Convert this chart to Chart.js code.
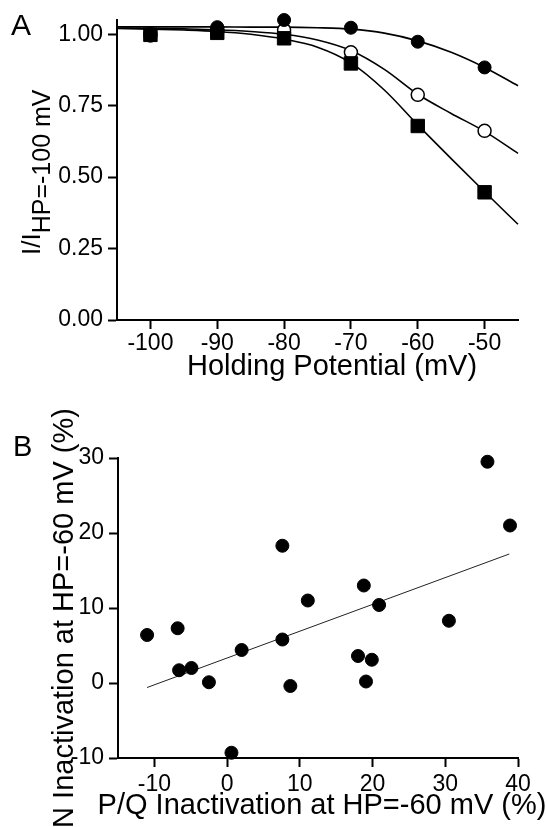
<!DOCTYPE html>
<html>
<head>
<meta charset="utf-8">
<script src="https://cdn.jsdelivr.net/npm/chart.js@4.4.1/dist/chart.umd.min.js"></script>
<style>
  html, body { margin: 0; padding: 0; background: #fff; }
  #wrap { position: relative; width: 547px; height: 827px; }
  #wrap canvas { position: absolute; left: 0; }
  #chartA { top: 0; }
  #chartB { top: 400px; }
</style>
</head>
<body>
<div id="wrap">
  <canvas id="chartA" width="547" height="400"></canvas>
  <canvas id="chartB" width="547" height="427"></canvas>
</div>
<script>
// Panel A: relative current vs holding potential
const voltages = [-100, -90, -80, -70, -60, -50];
const filledVals = [0.995, 1.025, 1.05, 1.023, 0.974, 0.884];
const openVals = [1.0, 1.01, 1.015, 0.937, 0.788, 0.662];
const squareVals = [0.998, 1.005, 0.986, 0.898, 0.679, 0.447];

// fitted curves
const fitVoltages = [-105, -100, -95, -90, -85, -80, -75, -70, -65, -60, -55, -50, -45];
const filledFit = [1.026, 1.026, 1.026, 1.026, 1.025, 1.025, 1.023, 1.018, 1.004, 0.977, 0.937, 0.884, 0.820];
const openFit = [1.022, 1.021, 1.019, 1.016, 1.010, 1.000, 0.980, 0.943, 0.877, 0.790, 0.723, 0.660, 0.583];
const squareFit = [1.020, 1.018, 1.015, 1.010, 1.000, 0.983, 0.955, 0.900, 0.805, 0.683, 0.565, 0.449, 0.335];

const xTicksA = [-100, -90, -80, -70, -60, -50];
const yTicksA = [0, 0.25, 0.5, 0.75, 1];

// Panel B: N vs P/Q inactivation
const pqInact = [-11.0, -6.8, -6.6, -4.9, -2.5, 0.6, 2.0, 7.6, 7.6, 8.7, 11.1, 18.0, 18.8, 19.1, 19.9, 20.9, 30.5, 35.8, 38.9];
const nInact = [6.4, 7.3, 1.7, 2.0, 0.1, -9.3, 4.4, 18.3, 5.8, -0.4, 11.0, 3.6, 13.0, 0.2, 3.1, 10.4, 8.3, 29.5, 21.0];
const regX = [-11.0, 38.8];
const regY = [-0.6, 17.2];

const xTicksB = [-10, 0, 10, 20, 30, 40];
const yTicksB = [-10, 0, 10, 20, 30];

const FONT = '"Liberation Sans", Arial, Helvetica, sans-serif';
Chart.defaults.font.family = FONT;
Chart.defaults.color = '#000';

const toPoints = (xs, ys) => xs.map((x, i) => ({x: x, y: ys[i]}));

// panel letters and axis titles (Chart.js titles get squeezed to the axis length)
function makeTextPlugin(items) {
  return {
    id: 'panelText',
    afterDraw(chart) {
      const ctx = chart.ctx;
      items.forEach(item => {
        ctx.save();
        ctx.fillStyle = '#000';
        ctx.textBaseline = 'alphabetic';
        ctx.textAlign = 'left';
        let total = 0;
        item.parts.forEach(p => {
          ctx.font = p.size + 'px ' + FONT;
          total += ctx.measureText(p.text).width;
        });
        ctx.translate(item.x, item.y);
        if (item.rotate) ctx.rotate(-Math.PI / 2);
        let pos = item.align === 'center' ? -total / 2 : 0;
        item.parts.forEach(p => {
          ctx.font = p.size + 'px ' + FONT;
          ctx.fillText(p.text, pos, p.shift || 0);
          pos += ctx.measureText(p.text).width;
        });
        ctx.restore();
      });
    }
  };
}

function axisStyle(extra) {
  return Object.assign({
    type: 'linear',
    grid: {drawOnChartArea: false, drawTicks: true, tickLength: 9, tickWidth: 2, tickColor: '#000'},
    border: {display: true, color: '#000', width: 2}
  }, extra);
}

const markerBase = {showLine: false, clip: false, pointHoverRadius: 0};
const fitBase = {showLine: true, pointRadius: 0, borderColor: '#000', borderWidth: 1.6,
  cubicInterpolationMode: 'monotone', clip: false, fill: false};

new Chart(document.getElementById('chartA'), {
  type: 'scatter',
  data: {
    datasets: [
      Object.assign({}, markerBase, {data: toPoints(voltages, filledVals), pointStyle: 'circle',
        pointRadius: 6.5, pointBackgroundColor: '#000', pointBorderColor: '#000', pointBorderWidth: 1}),
      Object.assign({}, markerBase, {data: toPoints(voltages, squareVals), pointStyle: 'rect',
        pointRadius: 9.5, pointBackgroundColor: '#000', pointBorderColor: '#000', pointBorderWidth: 1}),
      Object.assign({}, markerBase, {data: toPoints(voltages, openVals), pointStyle: 'circle',
        pointRadius: 6.5, pointBackgroundColor: '#fff', pointBorderColor: '#000', pointBorderWidth: 1.5}),
      Object.assign({}, fitBase, {data: toPoints(fitVoltages, filledFit)}),
      Object.assign({}, fitBase, {data: toPoints(fitVoltages, openFit)}),
      Object.assign({}, fitBase, {data: toPoints(fitVoltages, squareFit)})
    ]
  },
  options: {
    responsive: false,
    animation: false,
    events: [],
    layout: {padding: {top: 20, right: 29, left: 0, bottom: 0}},
    plugins: {legend: {display: false}, tooltip: {enabled: false}},
    scales: {
      x: axisStyle({
        min: -105, max: -45,
        afterBuildTicks: s => { s.ticks = xTicksA.map(v => ({value: v})); },
        afterFit: s => { s.height = 80; },
        ticks: {font: {size: 23}, padding: 1, maxRotation: 0, autoSkip: false, callback: v => String(v)}
      }),
      y: axisStyle({
        min: 0, max: 1.05,
        afterBuildTicks: s => { s.ticks = yTicksA.map(v => ({value: v})); },
        afterFit: s => { s.width = 117; },
        ticks: {font: {size: 23}, padding: 5, autoSkip: false, callback: v => v.toFixed(2)}
      })
    }
  },
  plugins: [makeTextPlugin([
    {x: 11, y: 35, parts: [{text: 'A', size: 30}]},
    {x: 332, y: 375, align: 'center', parts: [{text: 'Holding Potential (mV)', size: 29}]},
    {x: 40, y: 255, rotate: true, parts: [{text: 'I/I', size: 26}, {text: 'HP=-100 mV', size: 25, shift: 10}]}
  ])]
});

new Chart(document.getElementById('chartB'), {
  type: 'scatter',
  data: {
    datasets: [
      Object.assign({}, markerBase, {data: toPoints(pqInact, nInact), pointStyle: 'circle',
        pointRadius: 6.5, pointBackgroundColor: '#000', pointBorderColor: '#000', pointBorderWidth: 1}),
      Object.assign({}, fitBase, {data: toPoints(regX, regY), borderWidth: 1, borderColor: '#222',
        cubicInterpolationMode: 'default', tension: 0})
    ]
  },
  options: {
    responsive: false,
    animation: false,
    events: [],
    layout: {padding: {top: 58, right: 29, left: 0, bottom: 0}},
    plugins: {legend: {display: false}, tooltip: {enabled: false}},
    scales: {
      x: axisStyle({
        min: -15, max: 40,
        afterBuildTicks: s => { s.ticks = xTicksB.map(v => ({value: v})); },
        afterFit: s => { s.height = 69; },
        ticks: {font: {size: 23}, padding: 4, maxRotation: 0, autoSkip: false, callback: v => String(v)}
      }),
      y: axisStyle({
        min: -10, max: 30,
        afterBuildTicks: s => { s.ticks = yTicksB.map(v => ({value: v})); },
        afterFit: s => { s.width = 118; },
        ticks: {font: {size: 23}, padding: 5, autoSkip: false, callback: v => String(v)}
      })
    }
  },
  plugins: [makeTextPlugin([
    {x: 13, y: 56, parts: [{text: 'B', size: 29}]},
    {x: 322, y: 414, align: 'center', parts: [{text: 'P/Q Inactivation at HP=-60 mV (%)', size: 29}]},
    {x: 73, y: 218, rotate: true, align: 'center', parts: [{text: 'N Inactivation at HP=-60 mV (%)', size: 29}]}
  ])]
});
</script>
</body>
</html>
